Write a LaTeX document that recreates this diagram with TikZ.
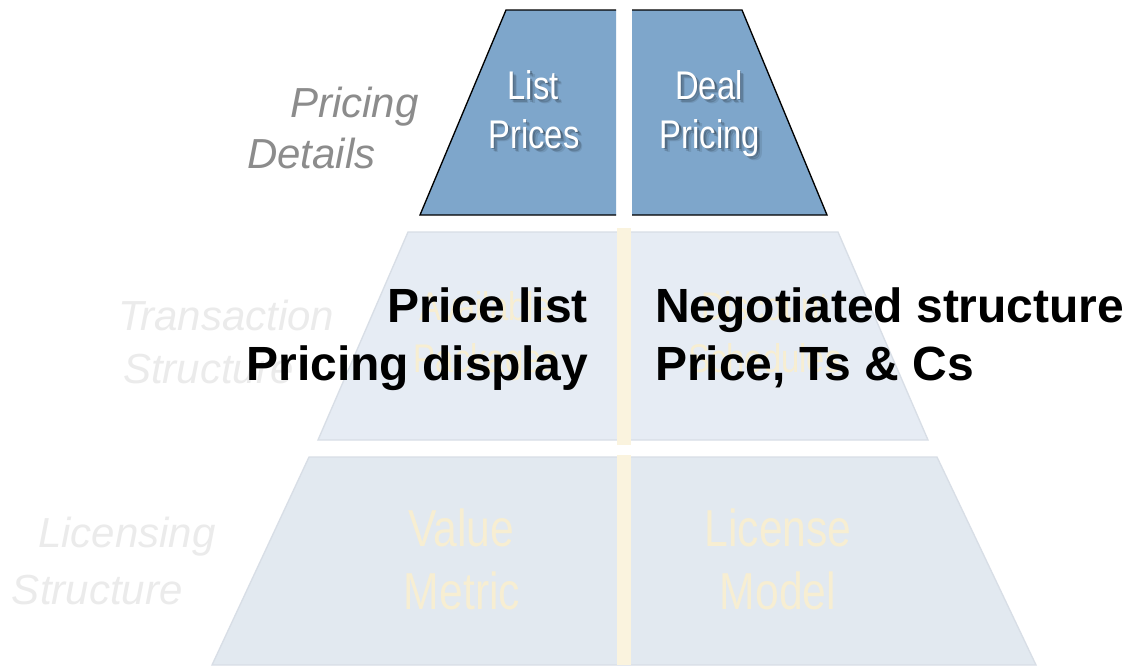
\documentclass[tikz,border=0pt]{standalone}
\usepackage{fontspec}
\setmainfont{Liberation Sans}
\newfontfamily\narrowfont[FakeStretch=0.82]{Liberation Sans}
\definecolor{topblue}{HTML}{7EA6CB}
\definecolor{midblue}{HTML}{E6ECF4}
\definecolor{midedge}{HTML}{D8DEE6}
\definecolor{lowblue}{HTML}{E2E9F0}
\definecolor{creambar}{HTML}{FAF3DE}
\definecolor{creamtext}{HTML}{F7EED2}
\definecolor{sidegrey}{HTML}{8C8C8C}
\definecolor{fadegrey}{HTML}{EBEBEB}
\tikzset{
  every node/.style={inner sep=0pt, outer sep=0pt},
  topfill/.style={fill=topblue},
  topedge/.style={draw=black, line width=1pt, line join=miter},
  midlayer/.style={fill=midblue, draw=midedge, line width=1pt},
  lowlayer/.style={fill=lowblue, draw=midedge, line width=1pt},
  gapbar/.style={fill=creambar},
  toptext/.style={font=\narrowfont\fontsize{30}{36}\selectfont, text=white},
  fadetext/.style={font=\narrowfont\fontsize{30}{36}\selectfont, text=creamtext},
  lowtext/.style={font=\narrowfont\fontsize{39}{46}\selectfont, text=creamtext},
  boldtext/.style={font=\bfseries\fontsize{36}{43}\selectfont, text=black},
  sidelabel/.style={font=\itshape\fontsize{31.5}{38}\selectfont, text=sidegrey},
  fadelabel/.style={font=\itshape\fontsize{31.5}{38}\selectfont, text=fadegrey},
}
\newcommand\ShadowNode[4]{%
  \foreach \d/\o in {1.5/0.22,3/0.16,4.5/0.09}{%
    \node[#3, text=black, opacity=\o, anchor=base] at ([shift={(\d,\d)}]#2) {#4};}%
  \node[#3, anchor=base] (#1) at (#2) {#4};}
\begin{document}
\begin{tikzpicture}[x=0.75pt, y=-0.75pt]
\useasboundingbox[fill=white] (0,0) rectangle (1128,665);

% bottom layer
\path[lowlayer] (309,457) -- (937,457) -- (1036,665) -- (212,665) -- cycle;
\path[gapbar] (617,455) rectangle (631,665);

% middle layer
\path[midlayer] (408,232) -- (838,232) -- (928,440) -- (318,440) -- cycle;
\path[gapbar] (617,228) rectangle (631,445);

% top layer
\path[topfill] (506,10) -- (616,10) -- (616,215) -- (420,215) -- cycle;
\draw[topedge] (616,10) -- (506,10) -- (420,215) -- (616,215);
\path[topfill] (632,10) -- (742,10) -- (827,215) -- (632,215) -- cycle;
\draw[topedge] (632,10) -- (742,10) -- (827,215) -- (632,215);

% top texts
\ShadowNode{list1}{533,99}{toptext}{List}
\ShadowNode{list2}{534,148}{toptext}{Prices}
\ShadowNode{deal1}{709,99}{toptext}{Deal}
\ShadowNode{deal2}{710,148}{toptext}{Pricing}

% faded middle texts
\node[fadetext, anchor=base] (av1) at (486,320) {Available};
\node[fadetext, anchor=base] (av2) at (486,372) {Packages};
\node[fadetext, anchor=base] (ds1) at (765,320) {Discount};
\node[fadetext, anchor=base] (ds2) at (765,372) {Schedules};

% faded bottom texts
\node[lowtext, anchor=base] (vm1) at (461,546) {Value};
\node[lowtext, anchor=base] (vm2) at (462,609) {Metric};
\node[lowtext, anchor=base] (lm1) at (778,546) {License};
\node[lowtext, anchor=base] (lm2) at (778,609) {Model};

% side labels
\node[sidelabel, anchor=base west] (pd1) at (290,117) {Pricing};
\node[sidelabel, anchor=base west] (pd2) at (247,168) {Details};
\node[fadelabel, anchor=base west] (ts1) at (118,330) {Transaction};
\node[fadelabel, anchor=base west] (ts2) at (123,383) {Structure};
\node[fadelabel, anchor=base west] (ls1) at (38,547) {Licensing};
\node[fadelabel, anchor=base west] (ls2) at (12,604) {Structure};

% bold overlay texts
\node[boldtext, anchor=base east] (pl1) at (588,322) {Price list};
\node[boldtext, anchor=base east] (pl2) at (588,380) {Pricing display};
\node[boldtext, anchor=base west] (ng1) at (655,322) {Negotiated structure};
\node[boldtext, anchor=base west] (ng2) at (655,380) {Price, Ts \& Cs};
\end{tikzpicture}
\end{document}
